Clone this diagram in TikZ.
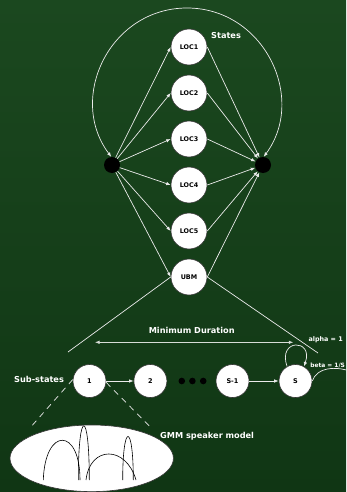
\documentclass[tikz,border=0pt]{standalone}
\usepackage{fontspec}
\setmainfont{DejaVu Sans}
\usetikzlibrary{arrows.meta,shapes.geometric}
\definecolor{bgtop}{RGB}{27,72,31}
\definecolor{bgbot}{RGB}{16,54,20}
\definecolor{lineclr}{RGB}{235,235,235}
\definecolor{mdclr}{RGB}{215,220,215}
\tikzset{
  statenode/.style={circle, fill=white, draw=black!80, line width=0.6pt, minimum size=36pt, inner sep=0pt, font=\fontsize{6.4}{7}\selectfont\bfseries, text=black},
  subnode/.style={circle, fill=white, draw=black!80, line width=0.6pt, minimum size=33pt, inner sep=0pt, font=\fontsize{6.5}{7}\selectfont\bfseries, text=black},
  blackdot/.style={circle, fill=black, draw=none, minimum size=16pt, inner sep=0pt},
  smalldot/.style={circle, fill=black, draw=none, minimum size=6.6pt, inner sep=0pt},
  conn/.style={draw=lineclr, line width=0.7pt, -{Latex[length=4.5pt,width=3.5pt]}},
  plainline/.style={draw=lineclr, line width=0.7pt},
  dashline/.style={draw=lineclr, line width=0.7pt, dash pattern=on 6pt off 5pt},
  lbl/.style={text=white, font=\fontsize{8.2}{9}\selectfont\bfseries, inner sep=0pt},
  smalllbl/.style={text=white, font=\fontsize{6.4}{7}\selectfont\bfseries, inner sep=0pt},
  gauss/.style={draw=black, line width=0.6pt},
}
\begin{document}
\begin{tikzpicture}[x=1pt,y=1pt]
\useasboundingbox (0,0) rectangle (346,-492);
\shade[top color=bgtop, bottom color=bgbot] (0,0) rectangle (346,-492);
\begin{scope}
\clip (0,0) rectangle (346,-492);
% states
\node[statenode] (loc1) at (189,-47) {LOC1};
\node[statenode] (loc2) at (189,-93) {LOC2};
\node[statenode] (loc3) at (189,-139) {LOC3};
\node[statenode] (loc4) at (189,-185) {LOC4};
\node[statenode] (loc5) at (189,-231) {LOC5};
\node[statenode] (ubm) at (189,-277) {UBM};
\node[blackdot] (L) at (112,-165) {};
\node[blackdot] (R) at (263,-165) {};
\node[lbl, anchor=west] (states) at (211,-36) {States};
% big loop
\coordinate (top) at (187,-8);
\draw[plainline, {Latex[length=4.5pt,width=3.5pt]}-{Latex[length=4.5pt,width=3.5pt]}]
  (L.95) .. controls (67,-98) and (110,-8) .. (top)
  .. controls (264,-8) and (307,-98) .. (R.85);
% fan in/out
\foreach \n in {loc1,loc2,loc3,loc4,loc5,ubm}{
  \draw[conn] (L) -- (\n.west);
  \draw[conn] (\n.east) -- (R);
}
% UBM expansion lines
\coordinate (ua) at (68,-352);
\coordinate (ub) at (318,-353);
\draw[plainline] (ubm.west) -- (ua);
\draw[plainline] (ubm.east) -- (ub);
% minimum duration
\coordinate (md1) at (95,-342.3);
\coordinate (md2) at (293.3,-342.3);
\draw[draw=mdclr, line width=0.7pt, {Latex[length=4.5pt,width=3.5pt]}-{Latex[length=4.5pt,width=3.5pt]}] (md1) -- (md2);
\node[lbl] (mdl) at (191.7,-330) {Minimum Duration};
% sub-states
\node[subnode] (s1) at (89.5,-381) {1};
\node[subnode] (s2) at (150.4,-381) {2};
\node[smalldot] (d1) at (181.8,-381) {};
\node[smalldot] (d2) at (192.4,-381) {};
\node[smalldot] (d3) at (203.2,-381) {};
\node[subnode] (sm1) at (232.5,-381) {S-1};
\node[subnode] (sS) at (295.5,-381) {S};
\node[lbl, anchor=west] (subl) at (14,-379) {Sub-states};
\draw[conn] (s1.east) -- (s2.west);
\draw[conn] (sm1.east) -- (sS.west);
\draw[conn] (sS.120) .. controls +(-10,28) and +(10,28) .. (sS.60);
\coordinate (exitc) at (365,-378);
\draw[plainline] (sS.east) .. controls (316,-368) and (338,-362) .. (exitc);
\node[smalllbl, anchor=west] (alp) at (308.3,-340) {alpha = 1};
\node[smalllbl, anchor=west, font=\fontsize{5.9}{7}\selectfont\bfseries] (bet) at (310.2,-366) {beta = 1/S};
% GMM
\node[ellipse, fill=white, draw=black!80, line width=0.6pt, minimum width=163.4pt, minimum height=66.6pt, inner sep=0pt] (gmm) at (91.7,-458.3) {};
\coordinate (g1) at (31.7,-426);
\coordinate (g2) at (150,-426.7);
\draw[dashline] (s1.175) -- (g1);
\draw[dashline] (s1.-5) -- (g2);
\node[lbl, anchor=west] (gmml) at (160,-436.7) {GMM speaker model};
\draw[gauss] (43.3,-480) .. controls (45,-427) and (80,-427) .. (80,-480);
\draw[gauss] (78.3,-480) .. controls (78.3,-407.7) and (89.3,-407.7) .. (89.3,-480);
\draw[gauss] (86,-480) .. controls (90,-445.3) and (126,-445.3) .. (136,-480);
\draw[gauss] (122.7,-480) .. controls (122.7,-422) and (133.3,-422) .. (133.3,-480);
\end{scope}
\end{tikzpicture}
\end{document}
